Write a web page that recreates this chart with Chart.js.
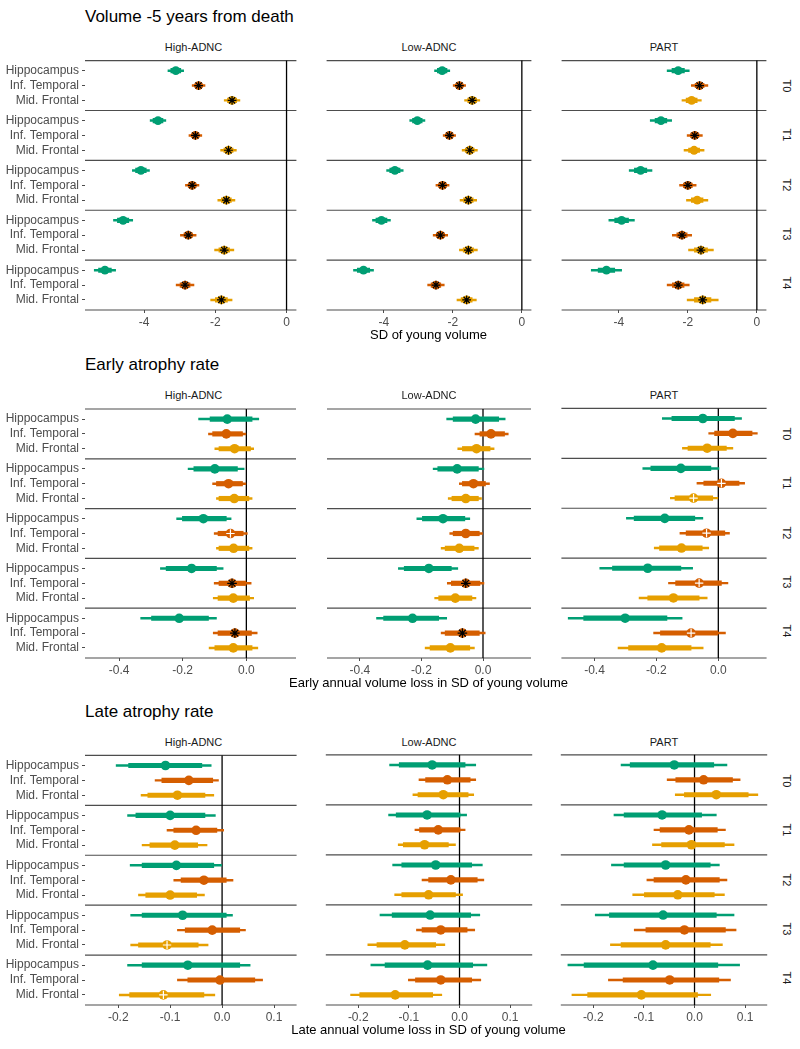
<!DOCTYPE html>
<html>
<head>
<meta charset="utf-8">
<title>Regional volume and atrophy rates</title>
<script src="https://cdn.jsdelivr.net/npm/chart.js@4.4.1/dist/chart.umd.min.js"></script>
<style>
  body { margin: 0; background: #fff; font-family: "Liberation Sans", Arial, sans-serif; }
  #page { position: relative; width: 800px; height: 1049px; overflow: hidden; }
  #page canvas { position: absolute; }
  .lbl { position: absolute; white-space: nowrap; transform: translate(-50%, -50%); }
  .title { position: absolute; white-space: nowrap; font-size: 17px; line-height: 20px; color: #000; }
  .strip { font-size: 11px; color: #1a1a1a; }
  .axisTitle { font-size: 13px; color: #000; }
</style>
</head>
<body>
<div id="page"></div>
<script>
// categories
const regions = ['Hippocampus', 'Inf. Temporal', 'Mid. Frontal'];
const regionColors = ['#009E73', '#D55E00', '#E69F00'];
const groups = ['High-ADNC', 'Low-ADNC', 'PART'];
const timepoints = ['T0', 'T1', 'T2', 'T3', 'T4'];

// tick labels
const volTicks = [-4, -2, 0];
const volTickLabels = ['-4', '-2', '0'];
const earlyTicks = [-0.4, -0.2, 0];
const earlyTickLabels = ['-0.4', '-0.2', '0.0'];
const lateTicks = [-0.2, -0.1, 0, 0.1];
const lateTickLabels = ['-0.2', '-0.1', '0.0', '0.1'];

// each row: [outer low, inner low, estimate, inner high, outer high]
// rows go T0..T4, and inside each: Hippocampus, Inf. Temporal, Mid. Frontal
const volHigh = [
  [-3.33, -3.25, -3.11, -2.97, -2.89], [-2.65, -2.57, -2.47, -2.37, -2.29], [-1.75, -1.66, -1.53, -1.40, -1.31],
  [-3.83, -3.75, -3.61, -3.47, -3.39], [-2.74, -2.66, -2.56, -2.46, -2.38], [-1.85, -1.76, -1.63, -1.50, -1.41],
  [-4.33, -4.24, -4.09, -3.94, -3.85], [-2.84, -2.76, -2.65, -2.54, -2.46], [-1.93, -1.83, -1.69, -1.55, -1.45],
  [-4.86, -4.75, -4.59, -4.43, -4.32], [-2.98, -2.88, -2.76, -2.64, -2.54], [-2.02, -1.90, -1.75, -1.60, -1.48],
  [-5.40, -5.28, -5.10, -4.92, -4.80], [-3.10, -2.99, -2.85, -2.71, -2.60], [-2.13, -2.00, -1.83, -1.66, -1.53]
];
const volLow = [
  [-2.53, -2.45, -2.31, -2.17, -2.09], [-1.99, -1.91, -1.81, -1.71, -1.63], [-1.66, -1.57, -1.44, -1.31, -1.22],
  [-3.25, -3.17, -3.03, -2.89, -2.81], [-2.28, -2.20, -2.10, -2.00, -1.92], [-1.73, -1.64, -1.51, -1.38, -1.29],
  [-3.92, -3.83, -3.68, -3.53, -3.44], [-2.49, -2.41, -2.30, -2.19, -2.11], [-1.79, -1.69, -1.55, -1.41, -1.31],
  [-4.33, -4.23, -4.07, -3.91, -3.81], [-2.57, -2.48, -2.36, -2.24, -2.15], [-1.81, -1.70, -1.55, -1.40, -1.29],
  [-4.88, -4.77, -4.59, -4.41, -4.30], [-2.73, -2.63, -2.49, -2.35, -2.25], [-1.88, -1.76, -1.60, -1.44, -1.32]
];
const volPart = [
  [-2.60, -2.46, -2.28, -2.10, -1.96], [-1.90, -1.79, -1.66, -1.53, -1.42], [-2.17, -2.05, -1.89, -1.73, -1.61],
  [-3.09, -2.95, -2.78, -2.61, -2.47], [-2.02, -1.92, -1.80, -1.68, -1.58], [-2.11, -1.98, -1.82, -1.66, -1.53],
  [-3.70, -3.55, -3.37, -3.19, -3.04], [-2.24, -2.13, -2.00, -1.87, -1.76], [-2.04, -1.90, -1.73, -1.56, -1.42],
  [-4.29, -4.12, -3.92, -3.72, -3.55], [-2.45, -2.32, -2.17, -2.02, -1.89], [-1.98, -1.81, -1.62, -1.43, -1.26],
  [-4.80, -4.60, -4.36, -4.12, -3.92], [-2.60, -2.45, -2.28, -2.11, -1.96], [-2.02, -1.81, -1.57, -1.33, -1.12]
];
// '*' = black asterisk, '+' = white cross, '' = none
const volHighMarks = ['', '*', '*', '', '*', '*', '', '*', '*', '', '*', '*', '', '*', '*'];
const volLowMarks = ['', '*', '*', '', '*', '*', '', '*', '*', '', '*', '*', '', '*', '*'];
const volPartMarks = ['', '*', '', '', '*', '', '', '*', '', '', '*', '*', '', '*', '*'];

const earlyHigh = [
  [-0.150, -0.114, -0.060, 0.018, 0.039], [-0.119, -0.106, -0.063, -0.012, 0.000], [-0.099, -0.086, -0.037, 0.013, 0.023],
  [-0.183, -0.165, -0.099, -0.028, -0.007], [-0.106, -0.094, -0.056, -0.012, 0.000], [-0.094, -0.086, -0.038, 0.008, 0.018],
  [-0.219, -0.201, -0.135, -0.063, -0.048], [-0.101, -0.089, -0.050, -0.010, 0.003], [-0.094, -0.086, -0.040, 0.008, 0.018],
  [-0.270, -0.252, -0.172, -0.094, -0.073], [-0.101, -0.086, -0.045, 0.000, 0.015], [-0.104, -0.089, -0.041, 0.010, 0.023],
  [-0.332, -0.298, -0.211, -0.119, -0.094], [-0.104, -0.089, -0.036, 0.016, 0.034], [-0.117, -0.099, -0.041, 0.018, 0.036]
];
const earlyLow = [
  [-0.118, -0.097, -0.024, 0.051, 0.072], [-0.026, -0.010, 0.026, 0.070, 0.082], [-0.082, -0.067, -0.021, 0.023, 0.036],
  [-0.162, -0.147, -0.084, -0.015, 0.003], [-0.077, -0.067, -0.031, 0.008, 0.021], [-0.113, -0.101, -0.056, -0.015, -0.005],
  [-0.215, -0.197, -0.130, -0.059, -0.043], [-0.108, -0.097, -0.056, -0.012, 0.000], [-0.136, -0.123, -0.077, -0.029, -0.015],
  [-0.275, -0.256, -0.176, -0.103, -0.082], [-0.116, -0.103, -0.056, -0.010, 0.003], [-0.157, -0.144, -0.090, -0.036, -0.023],
  [-0.346, -0.323, -0.229, -0.144, -0.118], [-0.136, -0.123, -0.067, -0.012, 0.007], [-0.188, -0.172, -0.106, -0.043, -0.028]
];
const earlyPart = [
  [-0.181, -0.150, -0.050, 0.052, 0.075], [-0.031, -0.012, 0.047, 0.109, 0.126], [-0.116, -0.098, -0.036, 0.026, 0.047],
  [-0.244, -0.218, -0.121, -0.024, 0.002], [-0.069, -0.047, 0.010, 0.067, 0.085], [-0.155, -0.140, -0.080, -0.018, 0.000],
  [-0.297, -0.272, -0.173, -0.076, -0.050], [-0.124, -0.104, -0.038, 0.021, 0.036], [-0.207, -0.190, -0.119, -0.052, -0.031],
  [-0.383, -0.342, -0.228, -0.121, -0.083], [-0.161, -0.138, -0.062, 0.010, 0.031], [-0.256, -0.228, -0.145, -0.062, -0.036],
  [-0.485, -0.435, -0.301, -0.166, -0.117], [-0.209, -0.187, -0.088, 0.000, 0.023], [-0.324, -0.290, -0.183, -0.088, -0.049]
];
const earlyHighMarks = ['', '', '', '', '', '', '', '+', '', '', '*', '', '', '*', ''];
const earlyLowMarks = ['', '', '', '', '', '', '', '', '', '', '*', '', '', '*', ''];
const earlyPartMarks = ['', '', '', '', '+', '+', '', '+', '', '', '+', '', '', '+', ''];

const lateHigh = [
  [-0.204, -0.180, -0.109, -0.039, -0.021], [-0.129, -0.116, -0.064, -0.018, -0.007], [-0.156, -0.143, -0.086, -0.033, -0.016],
  [-0.182, -0.166, -0.100, -0.033, -0.013], [-0.106, -0.093, -0.050, -0.010, 0.003], [-0.154, -0.139, -0.091, -0.047, -0.029],
  [-0.177, -0.154, -0.088, -0.016, 0.000], [-0.093, -0.079, -0.035, 0.008, 0.021], [-0.161, -0.147, -0.100, -0.049, -0.034],
  [-0.176, -0.154, -0.076, 0.008, 0.020], [-0.086, -0.071, -0.019, 0.034, 0.045], [-0.176, -0.161, -0.106, -0.046, -0.027],
  [-0.182, -0.154, -0.066, 0.034, 0.054], [-0.086, -0.066, -0.004, 0.063, 0.078], [-0.198, -0.178, -0.113, -0.035, -0.014]
];
const lateLow = [
  [-0.138, -0.119, -0.054, 0.011, 0.032], [-0.080, -0.067, -0.024, 0.021, 0.032], [-0.092, -0.082, -0.032, 0.017, 0.028],
  [-0.140, -0.125, -0.064, 0.001, 0.014], [-0.088, -0.079, -0.042, 0.001, 0.011], [-0.121, -0.111, -0.069, -0.022, -0.008],
  [-0.132, -0.114, -0.047, 0.024, 0.045], [-0.074, -0.061, -0.017, 0.035, 0.048], [-0.128, -0.114, -0.061, -0.008, 0.006],
  [-0.157, -0.133, -0.058, 0.022, 0.040], [-0.085, -0.074, -0.037, 0.015, 0.030], [-0.181, -0.163, -0.108, -0.047, -0.029],
  [-0.175, -0.147, -0.063, 0.026, 0.054], [-0.101, -0.087, -0.037, 0.024, 0.042], [-0.215, -0.197, -0.127, -0.053, -0.035]
];
const latePart = [
  [-0.145, -0.127, -0.040, 0.038, 0.064], [-0.054, -0.037, 0.018, 0.075, 0.090], [-0.038, -0.020, 0.043, 0.106, 0.125],
  [-0.159, -0.139, -0.064, 0.014, 0.043], [-0.080, -0.068, -0.011, 0.045, 0.061], [-0.083, -0.065, -0.006, 0.059, 0.078],
  [-0.164, -0.139, -0.057, 0.031, 0.049], [-0.094, -0.080, -0.017, 0.049, 0.064], [-0.122, -0.099, -0.033, 0.039, 0.059],
  [-0.196, -0.168, -0.062, 0.043, 0.078], [-0.119, -0.096, -0.020, 0.061, 0.082], [-0.166, -0.145, -0.057, 0.031, 0.055],
  [-0.250, -0.218, -0.082, 0.046, 0.089], [-0.170, -0.141, -0.049, 0.048, 0.071], [-0.242, -0.211, -0.105, 0.006, 0.032]
];
const lateHighMarks = ['', '', '', '', '', '', '', '', '', '', '', '+', '', '', '+'];
const lateLowMarks = ['', '', '', '', '', '', '', '', '', '', '', '', '', '', ''];
const latePartMarks = ['', '', '', '', '', '', '', '', '', '', '', '', '', '', ''];

const sections = [
  { title: 'Volume -5 years from death', axis: 'SD of young volume', top: 61, xMin: -5.66, xMax: 0.277, radius: 4.4,
    ticks: volTicks, tickLabels: volTickLabels, panels: [volHigh, volLow, volPart], marks: [volHighMarks, volLowMarks, volPartMarks] },
  { title: 'Early atrophy rate', axis: 'Early annual volume loss in SD of young volume', top: 409, xMin: -0.507, xMax: 0.156, radius: 4.8,
    ticks: earlyTicks, tickLabels: earlyTickLabels, panels: [earlyHigh, earlyLow, earlyPart], marks: [earlyHighMarks, earlyLowMarks, earlyPartMarks] },
  { title: 'Late atrophy rate', axis: 'Late annual volume loss in SD of young volume', top: 756, xMin: -0.264, xMax: 0.1435, radius: 4.8,
    ticks: lateTicks, tickLabels: lateTickLabels, panels: [lateHigh, lateLow, latePart], marks: [lateHighMarks, lateLowMarks, latePartMarks] }
];

// layout
const FACET = 3.36;   // y units per facet row
const PAD = 0.68;     // space above first / below last region
const facetPx = 49.4;
const colLeft = [85, 321, 556];
const colWidth = [217, 216, 216];
const yLabelWidth = 85;
const xAxisHeight = 24;
const topPad = 3;
// the chart area comes out a few px lower / shorter than asked, so the canvas is nudged
const canvasShift = 3;
const canvasExtra = 5;

Chart.defaults.font.family = '"Liberation Sans", Arial, sans-serif';
Chart.defaults.font.size = 12;
Chart.defaults.color = '#4d4d4d';

const page = document.getElementById('page');

function addText(cls, text, x, y, rotate) {
  const d = document.createElement('div');
  d.className = 'lbl ' + cls;
  d.textContent = text;
  d.style.left = x + 'px';
  d.style.top = y + 'px';
  if (rotate) d.style.transform = 'translate(-50%, -50%) rotate(90deg)';
  page.appendChild(d);
}

// horizontal facet borders and the zero line
const facetFrame = {
  id: 'facetFrame',
  beforeDatasetsDraw(chart) {
    const { ctx, chartArea: a, scales: { x, y } } = chart;
    ctx.save();
    ctx.strokeStyle = '#4d4d4d';
    ctx.lineWidth = 1.2;
    for (let k = 0; k <= timepoints.length; k++) {
      const py = y.getPixelForValue(k * FACET - PAD);
      ctx.beginPath();
      ctx.moveTo(a.left, py);
      ctx.lineTo(a.right, py);
      ctx.stroke();
    }
    const px = x.getPixelForValue(0);
    ctx.strokeStyle = '#000';
    ctx.lineWidth = 1.3;
    ctx.beginPath();
    ctx.moveTo(px, a.top);
    ctx.lineTo(px, a.bottom);
    ctx.stroke();
    ctx.restore();
  }
};

function makePanel(sec, col) {
  const rows = sec.panels[col];
  const marks = sec.marks[col];
  const ys = rows.map((r, i) => Math.floor(i / 3) * FACET + (i % 3));
  const colors = rows.map((r, i) => regionColors[i % 3]);
  const showY = col === 0;

  const canvas = document.createElement('canvas');
  const left = showY ? 0 : colLeft[col];
  canvas.width = showY ? colLeft[0] + colWidth[0] : colWidth[col];
  canvas.height = topPad + Math.round(timepoints.length * facetPx) + xAxisHeight + canvasExtra;
  canvas.style.left = left + 'px';
  canvas.style.top = (sec.top - topPad - canvasShift) + 'px';
  page.appendChild(canvas);

  const markData = rows.map((r, i) => ({ x: r[2], y: ys[i], m: marks[i] })).filter(d => d.m);

  new Chart(canvas, {
    type: 'scatter',
    data: {
      datasets: [
        {
          type: 'scatter',
          data: markData,
          order: 0,
          pointStyle: c => (c.raw && c.raw.m === '*') ? 'star' : 'cross',
          pointRadius: c => (c.raw && c.raw.m === '*') ? sec.radius : sec.radius - 0.6,
          borderColor: c => (c.raw && c.raw.m === '*') ? '#000' : '#fff',
          backgroundColor: 'rgba(0,0,0,0)',
          borderWidth: 1.2
        },
        {
          type: 'scatter',
          data: rows.map((r, i) => ({ x: r[2], y: ys[i] })),
          order: 1,
          pointRadius: sec.radius,
          pointBackgroundColor: colors,
          pointBorderWidth: 0
        },
        {
          type: 'bar',
          indexAxis: 'y',
          grouped: false,
          data: rows.map((r, i) => ({ x: [r[1], r[3]], y: ys[i] })),
          order: 2,
          barThickness: 4.5,
          backgroundColor: colors
        },
        {
          type: 'bar',
          indexAxis: 'y',
          grouped: false,
          data: rows.map((r, i) => ({ x: [r[0], r[4]], y: ys[i] })),
          order: 3,
          barThickness: 1.8,
          backgroundColor: colors
        }
      ]
    },
    options: {
      responsive: false,
      animation: false,
      events: [],
      layout: { padding: { top: topPad, left: 0, right: 0, bottom: 0 } },
      plugins: { legend: { display: false }, tooltip: { enabled: false } },
      scales: {
        x: {
          type: 'linear',
          min: sec.xMin,
          max: sec.xMax,
          offset: false,
          afterBuildTicks: s => { s.ticks = sec.ticks.map(v => ({ value: v })); },
          afterFit: s => { s.height = xAxisHeight; s.paddingLeft = 0; s.paddingRight = 0; },
          ticks: {
            autoSkip: false,
            maxRotation: 0,
            padding: 2,
            color: '#4d4d4d',
            font: { size: 12 },
            callback: (v, i) => sec.tickLabels[i]
          },
          grid: { drawOnChartArea: false, drawTicks: true, tickLength: 3, color: '#4d4d4d' },
          border: { display: false }
        },
        y: {
          type: 'linear',
          display: showY,
          reverse: true,
          offset: false,
          min: -PAD,
          max: timepoints.length * FACET - PAD,
          afterBuildTicks: s => { s.ticks = ys.map(v => ({ value: v })); },
          afterFit: s => { s.width = showY ? yLabelWidth : 0; s.paddingTop = 0; s.paddingBottom = 0; },
          ticks: {
            autoSkip: false,
            padding: 3,
            color: '#4d4d4d',
            font: { size: 12 },
            callback: (v, i) => regions[i % 3]
          },
          grid: { offset: false, drawOnChartArea: false, drawTicks: true, tickLength: 3, color: '#4d4d4d' },
          border: { display: false }
        }
      }
    },
    plugins: [facetFrame]
  });
}

sections.forEach(sec => {
  const t = document.createElement('div');
  t.className = 'title';
  t.textContent = sec.title;
  t.style.left = '85px';
  t.style.top = (sec.top - 54) + 'px';
  page.appendChild(t);

  groups.forEach((g, col) => {
    addText('strip', g, colLeft[col] + colWidth[col] / 2, sec.top - 14);
    makePanel(sec, col);
  });

  timepoints.forEach((tp, k) => {
    addText('strip', tp, 787, sec.top + facetPx * (k + 0.5), true);
  });

  const mid = (colLeft[0] + colLeft[2] + colWidth[2]) / 2;
  addText('axisTitle', sec.axis, mid, sec.top + timepoints.length * facetPx + 26);
});
</script>
</body>
</html>
